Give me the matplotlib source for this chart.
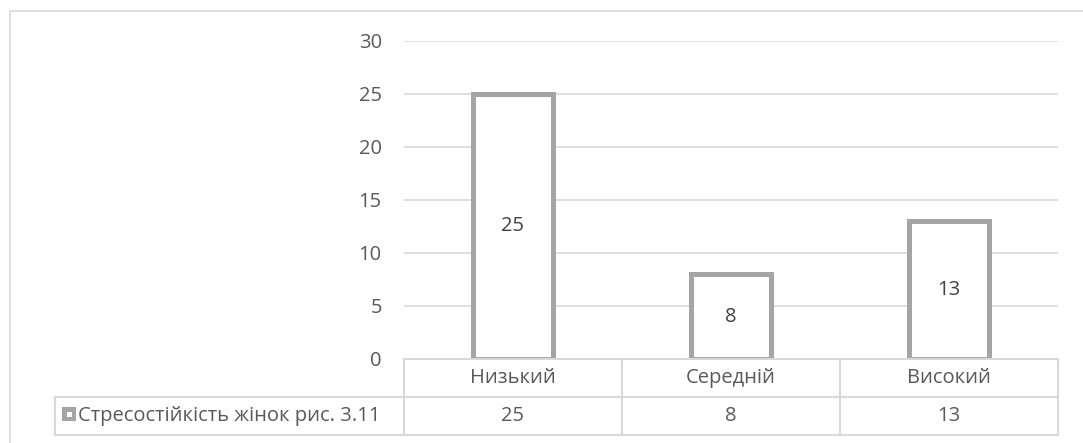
import matplotlib
matplotlib.use("Agg")
import matplotlib.pyplot as plt
from matplotlib.patches import Rectangle
from matplotlib.lines import Line2D

# Data
categories = ['Низький', 'Середній', 'Високий']
values = [25, 8, 13]
series_name = 'Стресостійкість жінок рис. 3.11'
yticks = [0, 5, 10, 15, 20, 25, 30]

plt.rcParams['font.family'] = ['Open Sans', 'DejaVu Sans']

W, H = 1083, 443
fig = plt.figure(figsize=(W / 100, H / 100), dpi=100)

GRID = '#D9D9D9'
TXT = '#595959'
BAR = '#A5A5A5'
FS = 14.5


def fx(x):
    return x / W


def fy(y):
    return 1 - y / H


# plot area (pixel box: left, top, right, bottom)
L, T, R, B = 404, 40.7, 1058, 359
ax = fig.add_axes([fx(L), fy(B), fx(R - L), (B - T) / H])

x = list(range(len(categories)))
ax.bar(x, values, width=0.367, facecolor='white', edgecolor=BAR,
       linewidth=3.6, zorder=3)
for xi, v in zip(x, values):
    ax.text(xi, v / 2, str(v), ha='center', va='center', color='#404040',
            fontsize=FS, zorder=4)

ax.set_xlim(-0.5, len(categories) - 0.5)
ax.set_ylim(0, 30)
ax.set_yticks(yticks)
ax.set_xticks([])
ax.yaxis.grid(True, color=GRID, linewidth=1.2)
ax.set_axisbelow(True)
for s in ax.spines.values():
    s.set_visible(False)
ax.tick_params(axis='y', length=0, pad=16, labelcolor=TXT, labelsize=FS)

# data table beneath the plot
fig.canvas.draw()
to_px = ax.transData.transform


def col_px(xd):
    return to_px((xd, 0))[0]


cols = [col_px(i - 0.5) for i in range(len(categories) + 1)]
y_top, y_mid, y_bot = 359, 396.5, 435
leg_left = 55


def hline(x0, x1, y):
    fig.add_artist(Line2D([fx(x0), fx(x1)], [fy(y), fy(y)], color=GRID,
                          linewidth=1.5, transform=fig.transFigure))


def vline(xp, y0, y1):
    fig.add_artist(Line2D([fx(xp), fx(xp)], [fy(y0), fy(y1)], color=GRID,
                          linewidth=1.5, transform=fig.transFigure))


hline(cols[0], cols[-1], y_top)
hline(leg_left, cols[-1], y_mid)
hline(leg_left, cols[-1], y_bot)
for c in cols:
    vline(c, y_top, y_bot)
vline(leg_left, y_mid, y_bot)

for i, (cat, v) in enumerate(zip(categories, values)):
    cx = (cols[i] + cols[i + 1]) / 2
    fig.text(fx(cx), fy((y_top + y_mid) / 2), cat, ha='center', va='center',
             color=TXT, fontsize=FS)
    fig.text(fx(cx), fy((y_mid + y_bot) / 2), str(v), ha='center',
             va='center', color=TXT, fontsize=FS)

# legend key and series name
fig.add_artist(Rectangle((fx(62), fy(421)), fx(14), 14 / H,
                         facecolor=BAR, edgecolor='none',
                         transform=fig.transFigure))
fig.add_artist(Rectangle((fx(66.5), fy(416.5)), fx(5), 5 / H,
                         facecolor='white', edgecolor='none',
                         transform=fig.transFigure))
fig.text(fx(78), fy((y_mid + y_bot) / 2), series_name, ha='left',
         va='center', color=TXT, fontsize=FS)

# chart frame
fig.add_artist(Rectangle((fx(10), fy(460)), fx(1100), 449 / H,
                         facecolor='none', edgecolor=GRID, linewidth=1.2,
                         transform=fig.transFigure))

fig.savefig('out.png', dpi=100, facecolor='white')
